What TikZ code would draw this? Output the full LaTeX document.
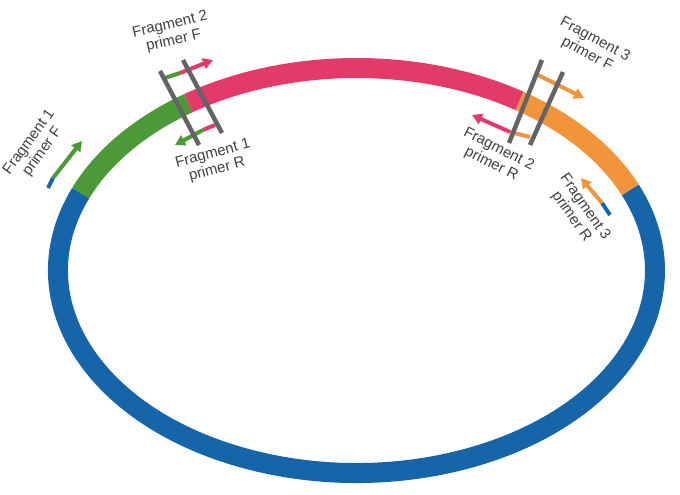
\documentclass[tikz,border=0pt]{standalone}
\usepackage{fontspec}
\setmainfont{Liberation Sans}
\usetikzlibrary{arrows.meta}
\definecolor{cblue}{RGB}{22,101,168}
\definecolor{cgreen}{RGB}{76,153,56}
\definecolor{cpink}{RGB}{228,58,106}
\definecolor{corange}{RGB}{242,148,58}
\definecolor{cbar}{RGB}{98,100,104}
\definecolor{ctext}{RGB}{64,64,64}
\tikzset{
  ring/.style={line width=20pt, line cap=butt},
  bar/.style={line width=4.5pt, color=cbar, line cap=butt},
  primer/.style={line width=4pt, line cap=butt},
  primerarrow/.style={primer, -{Triangle[length=10pt,width=11pt]}},
  lbl/.style={font=\fontsize{15pt}{16.5pt}\selectfont, text=ctext, align=center, inner sep=0pt}
}
\begin{document}
\begin{tikzpicture}[x=1pt,y=1pt]
\useasboundingbox (0,0) rectangle (680,495);
% ring
\coordinate (c) at (356.5,224.5);
\draw[ring, cblue] (c) ++(157.5:298.5 and 202.5) arc[start angle=157.5, end angle=383.5, x radius=298.5, y radius=202.5];
\draw[ring, cgreen] (c) ++(124.3:298.5 and 202.5) arc[start angle=124.3, end angle=157.5, x radius=298.5, y radius=202.5];
\draw[ring, cpink] (c) ++(56.9:298.5 and 202.5) arc[start angle=56.9, end angle=124.3, x radius=298.5, y radius=202.5];
\draw[ring, corange] (c) ++(23.5:298.5 and 202.5) arc[start angle=23.5, end angle=56.9, x radius=298.5, y radius=202.5];
% primer coordinates
\coordinate (f1fa) at (48,307); \coordinate (f1fb) at (53,317); \coordinate (f1fc) at (82,354);
\coordinate (f2fa) at (165,417); \coordinate (f2fb) at (180,422); \coordinate (f2fc) at (213,435);
\coordinate (f1ra) at (215,370); \coordinate (f1rb) at (203,365); \coordinate (f1rc) at (175,350);
\coordinate (f3fa) at (538,420); \coordinate (f3fc) at (584,397);
\coordinate (f2ra) at (530,358); \coordinate (f2rb) at (510,363); \coordinate (f2rc) at (472,380);
\coordinate (f3ra) at (610,280); \coordinate (f3rb) at (602,292); \coordinate (f3rc) at (581,317);
% primers
\draw[primer, cblue] (f1fa) -- (f1fb);
\draw[primerarrow, cgreen] (f1fb) -- (f1fc);
\draw[primer, cgreen] (f2fa) -- (f2fb);
\draw[primerarrow, cpink] (f2fb) -- (f2fc);
\draw[primer, cpink] (f1ra) -- (f1rb);
\draw[primerarrow, cgreen] (f1rb) -- (f1rc);
\draw[primerarrow, corange] (f3fa) -- (f3fc);
\draw[primer, corange] (f2ra) -- (f2rb);
\draw[primerarrow, cpink] (f2rb) -- (f2rc);
\draw[primer, cblue] (f3ra) -- (f3rb);
\draw[primerarrow, corange] (f3rb) -- (f3rc);
% bars
\coordinate (b1a) at (160,424); \coordinate (b1b) at (199,350);
\coordinate (b2a) at (183,435); \coordinate (b2b) at (222,362);
\coordinate (b3a) at (542,435); \coordinate (b3b) at (509,352);
\coordinate (b4a) at (563,423); \coordinate (b4b) at (530,350);
\draw[bar] (b1a) -- (b1b);
\draw[bar] (b2a) -- (b2b);
\draw[bar] (b3a) -- (b3b);
\draw[bar] (b4a) -- (b4b);
% labels
\node[lbl, rotate=54] (l1f) at (36,348) {Fragment 1\\primer F};
\node[lbl, rotate=13] (l2f) at (172,462) {Fragment 2\\primer F};
\node[lbl, rotate=15] (l1r) at (215,333) {Fragment 1\\primer R};
\node[lbl, rotate=-28] (l3f) at (591,448) {Fragment 3\\primer F};
\node[lbl, rotate=-27] (l2r) at (495,338) {Fragment 2\\primer R};
\node[lbl, rotate=-55] (l3r) at (578,283) {Fragment 3\\primer R};
\end{tikzpicture}
\end{document}
